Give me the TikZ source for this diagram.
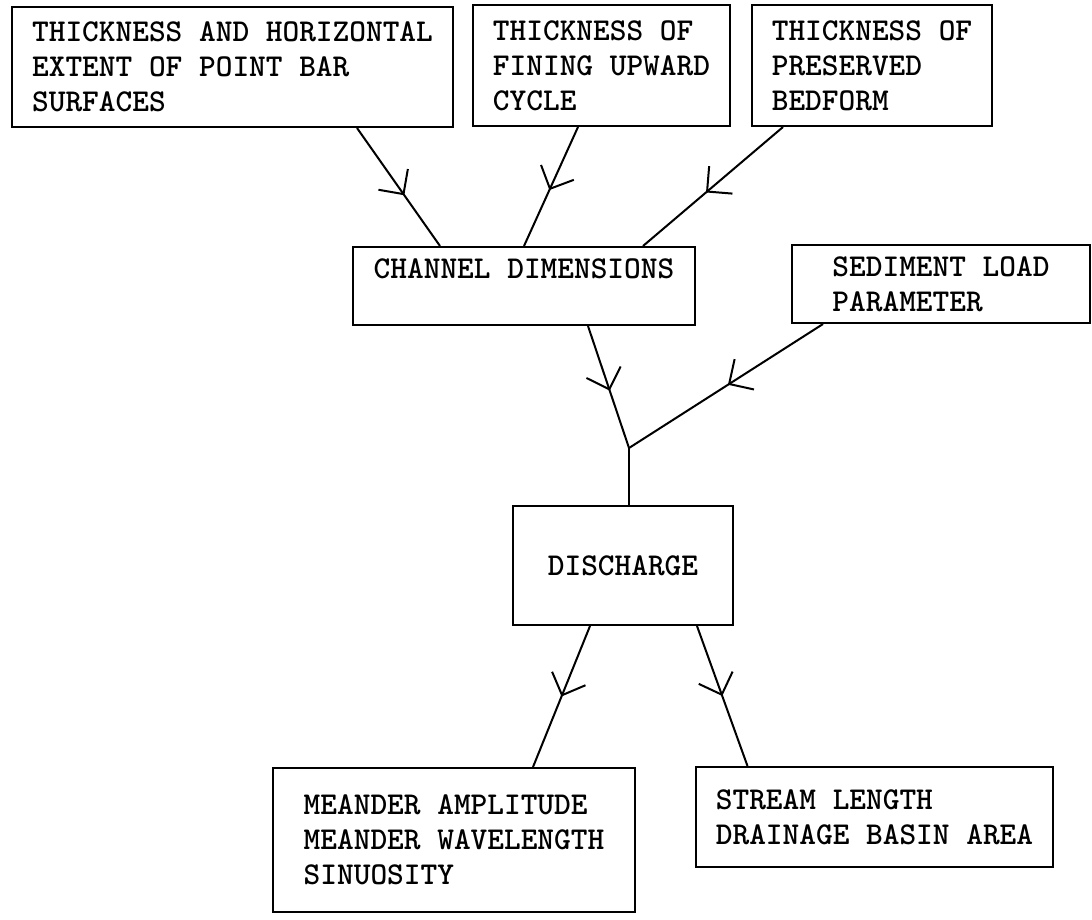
\documentclass[tikz,border=0pt]{standalone}
\usetikzlibrary{arrows.meta,decorations.markings}

\begin{document}
\begin{tikzpicture}[x=1pt, y=-1pt,
    box/.style={draw=black, line width=2pt, align=left, inner sep=0pt,
        font=\ttfamily\bfseries\fontsize{31.8pt}{35pt}\selectfont},
    flow/.style={line width=2pt, postaction={decorate},
        decoration={markings, mark=at position #1 with {\arrow{Straight Barb[length=18pt, width=36pt, line width=2pt]}}}},
    flow/.default=0.53]
    \useasboundingbox (0,0) rectangle (1092,919);

    % what is measured in the deposit
    \node[box, minimum width=441pt, minimum height=120pt] (bar) at (232.5,67) {THICKNESS AND HORIZONTAL\\EXTENT OF POINT BAR\\SURFACES};
    \node[box, minimum width=257pt, minimum height=121pt] (cycle) at (601.5,65.5) {THICKNESS OF\\FINING UPWARD\\CYCLE};
    \node[box, minimum width=240pt, minimum height=121pt] (bedform) at (872,65.5) {THICKNESS OF\\PRESERVED\\BEDFORM};

    % what follows from it
    \node[box, minimum width=342pt, minimum height=78pt] (channel) at (524,286) {CHANNEL DIMENSIONS\\~};
    \node[box, minimum width=298pt, minimum height=78pt] (load) at (941,284) {SEDIMENT LOAD\\PARAMETER};
    \coordinate (fork) at (629,448);
    \node[box, minimum width=220pt, minimum height=119pt] (discharge) at (623,565.5) {DISCHARGE};
    \node[box, minimum width=362pt, minimum height=144pt] (meander) at (454,840) {MEANDER AMPLITUDE\\MEANDER WAVELENGTH\\SINUOSITY};
    \node[box, minimum width=357pt, minimum height=100pt] (stream) at (874.5,817) {STREAM LENGTH\\DRAINAGE BASIN AREA};

    \draw[flow=0.57] ([xshift=124.5pt]bar.south) -- ([xshift=-84pt]channel.north);
    \draw[flow] ([xshift=-23.5pt]cycle.south) -- (channel.north);
    \draw[flow=0.55] ([xshift=-89pt]bedform.south) -- ([xshift=119pt]channel.north);
    \draw[flow] ([xshift=64pt]channel.south) -- (fork);
    \draw[flow=0.49] ([xshift=-118pt]load.south) -- (fork);
    \draw[line width=2pt] (fork) -- (fork |- discharge.north);
    \draw[flow=0.5] ([xshift=-33pt]discharge.south) -- ([xshift=79pt]meander.north);
    \draw[flow=0.5] ([xshift=74pt]discharge.south) -- ([xshift=-127pt]stream.north);
\end{tikzpicture}
\end{document}
